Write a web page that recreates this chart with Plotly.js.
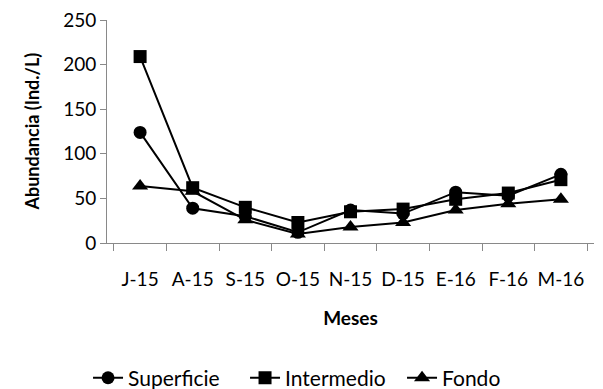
<!DOCTYPE html>
<html>
<head>
<meta charset="utf-8">
<script src="https://cdn.plot.ly/plotly-3.0.1.min.js"></script>
<style>html,body{margin:0;padding:0;background:#fff;}</style>
</head>
<body>
<div id="chart" style="width:603px;height:389px;"></div>
<script>
const months = ["J-15","A-15","S-15","O-15","N-15","D-15","E-16","F-16","M-16"];
const superficie = [124, 39, 30, 12, 37, 33, 57, 53, 77];
const intermedio = [209, 62, 40, 23, 35, 38, 49, 56, 71];
const fondo = [64, 58, 26, 10, 18, 23, 37, 44, 49];
const yTicks = [0, 50, 100, 150, 200, 250];

const fam = "Lato, 'Open Sans', sans-serif";
const tickFont = {family: fam, size: 19, color: "#000"};
const titleFont = {family: fam, size: 19, color: "#000"};
const yTitleFont = {family: fam, size: 18, color: "#000"};
const legendFont = {family: fam, size: 21, color: "#000"};
function tr(name, y, symbol, size) {
  return {
    x: months, y: y, name: name, type: "scatter", mode: "lines+markers",
    line: {color: "#000", width: 2},
    marker: {symbol: symbol, size: size, color: "#000"}
  };
}
const data = [
  tr("Superficie", superficie, "circle", 13),
  tr("Intermedio", intermedio, "square", 13),
  tr("Fondo", fondo, "triangle-up", 14)
];
const layout = {
  width: 603, height: 389,
  margin: {l: 107, r: 9, t: 20, b: 146},
  paper_bgcolor: "#fff", plot_bgcolor: "#fff",
  font: tickFont,
  showlegend: true,
  legend: {orientation: "h", xref: "container", yref: "container", x: 0.146, xanchor: "left", y: 0.028, yanchor: "middle", font: legendFont, itemwidth: 30, tracegroupgap: 0, entrywidth: 112, entrywidthmode: "pixels"},
  xaxis: {
    type: "category", showgrid: false, zeroline: false,
    showline: true, linecolor: "#898989", linewidth: 1,
    ticks: "outside", tickson: "boundaries", ticklen: 7, tickcolor: "#898989",
    tickangle: 0,
    ticklabelstandoff: 19,
    tickfont: tickFont,
    title: {text: "<b>Meses</b>", font: titleFont, standoff: 22}
  },
  yaxis: {
    range: [0, 250], tickvals: yTicks, showgrid: false, zeroline: false,
    showline: true, linecolor: "#898989", linewidth: 1,
    ticks: "outside", ticklen: 6, tickcolor: "#898989",
    ticksuffix: "\u00a0\u00a0\u00a0",
    tickfont: tickFont
  },
  annotations: [{
    text: "<b>Abundancia (Ind./L)</b>", textangle: -90, showarrow: false,
    xref: "paper", yref: "paper", x: -0.156, y: 0.5, xanchor: "center", yanchor: "middle",
    font: yTitleFont
  }]
};
Plotly.newPlot("chart", data, layout, {displayModeBar: false, staticPlot: true});
</script>
</body>
</html>
